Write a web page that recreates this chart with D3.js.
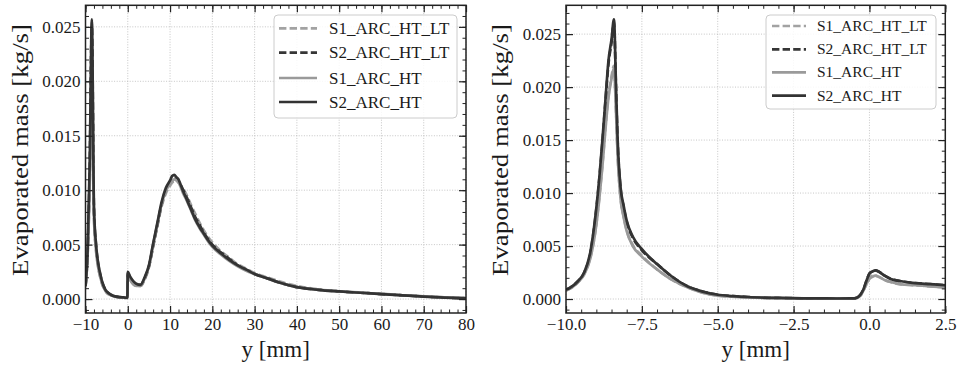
<!DOCTYPE html>
<html><head><meta charset="utf-8">
<script src="https://cdn.jsdelivr.net/npm/d3@7"></script>
<style>
body{margin:0;background:#fff}
svg{display:block}
svg text{font-family:"Liberation Serif","DejaVu Serif",serif !important;fill:#1a1a1a}
</style>
</head><body>
<svg id="c" width="958" height="368"></svg>
<script>
// ---------- data ----------
const seriesNames = ["S1_ARC_HT_LT", "S2_ARC_HT_LT", "S1_ARC_HT", "S2_ARC_HT"];

// left panel (full range), y [mm]
const wideX = [-10, -9.5, -9, -8.5, -8, -7.5, -7, -6.5, -6, -5.5, -5, -4, -3, -2, -1, -0.1, 0, 0.5, 1, 2, 3, 4, 5, 6, 7, 8, 9, 10, 10.5, 11, 11.5, 12, 12.5, 13, 14, 15, 16, 17, 18, 19, 20, 22, 24, 26, 28, 30, 33, 36, 40, 45, 50, 55, 60, 65, 70, 75, 80];
const wideS1LT = [0.0011, 0.0041, 0.0108, 0.0218, 0.0076, 0.0045, 0.0030, 0.0020, 0.0013, 0.0009, 0.0006, 0.00035, 0.00022, 0.00016, 0.00013, 0.0001, 0.0022, 0.0018, 0.0015, 0.0012, 0.0012, 0.0018, 0.0029, 0.0048, 0.0067, 0.0085, 0.0097, 0.0104, 0.0107, 0.0108, 0.0108, 0.0107, 0.0105, 0.0102, 0.0095, 0.0086, 0.0078, 0.0070, 0.0063, 0.0057, 0.0052, 0.0044, 0.0038, 0.0032, 0.0028, 0.0024, 0.0020, 0.0016, 0.0012, 0.0009, 0.00072, 0.0006, 0.00048, 0.00036, 0.00025, 0.00016, 0.00009];
const wideS2LT = [0.0012, 0.0044, 0.0122, 0.0252, 0.0083, 0.0049, 0.0032, 0.0022, 0.0015, 0.0010, 0.0007, 0.0004, 0.00025, 0.00018, 0.00015, 0.00012, 0.0024, 0.0020, 0.0017, 0.0013, 0.0013, 0.0019, 0.0030, 0.0049, 0.0068, 0.0087, 0.0100, 0.0107, 0.0110, 0.0111, 0.0110, 0.0108, 0.0105, 0.0101, 0.0093, 0.0084, 0.0075, 0.0068, 0.0061, 0.0055, 0.0050, 0.0043, 0.0037, 0.0031, 0.0027, 0.0023, 0.0019, 0.0015, 0.0011, 0.00086, 0.0007, 0.00058, 0.00046, 0.00034, 0.00023, 0.00014, 0.00007];
const wideS1 = [0.0011, 0.0040, 0.0105, 0.0215, 0.0075, 0.0044, 0.0029, 0.0020, 0.0013, 0.0009, 0.0006, 0.00035, 0.00022, 0.00016, 0.00013, 0.0001, 0.0021, 0.0018, 0.0015, 0.0012, 0.0012, 0.0019, 0.0030, 0.0050, 0.0069, 0.0087, 0.0099, 0.0106, 0.0109, 0.0110, 0.0109, 0.0107, 0.0103, 0.0098, 0.0090, 0.0081, 0.0072, 0.0065, 0.0059, 0.0053, 0.0048, 0.0041, 0.0035, 0.0030, 0.0026, 0.0023, 0.0019, 0.0015, 0.0011, 0.00085, 0.0007, 0.00058, 0.00047, 0.00035, 0.00024, 0.00015, 0.00008];
const wideS2 = [0.0012, 0.0045, 0.0125, 0.0257, 0.0085, 0.0050, 0.0033, 0.0023, 0.0015, 0.0010, 0.0007, 0.0004, 0.00025, 0.00018, 0.00015, 0.00012, 0.0025, 0.0021, 0.0018, 0.0014, 0.0013, 0.0020, 0.0031, 0.0051, 0.0070, 0.0089, 0.0102, 0.0109, 0.0113, 0.0114, 0.0112, 0.0110, 0.0105, 0.0100, 0.0091, 0.0082, 0.0073, 0.0066, 0.0060, 0.0054, 0.0049, 0.0042, 0.0036, 0.0031, 0.0027, 0.0023, 0.0019, 0.0015, 0.0011, 0.00085, 0.0007, 0.00058, 0.00046, 0.00034, 0.00022, 0.00013, 0.00006];

// right panel (zoom -10 .. 2.5 mm)
const zoomX = [-10, -9.8, -9.6, -9.4, -9.2, -9.0, -8.9, -8.8, -8.7, -8.6, -8.5, -8.42, -8.35, -8.3, -8.2, -8.1, -8.0, -7.8, -7.5, -7.0, -6.5, -6.0, -5.5, -5.0, -4.5, -4.0, -3.0, -2.0, -1.0, -0.5, -0.3, -0.2, -0.1, 0, 0.1, 0.2, 0.3, 0.5, 0.7, 1.0, 1.5, 2.0, 2.5];
const zoomS1LT = [0.0008, 0.0011, 0.0016, 0.0024, 0.0039, 0.0071, 0.0097, 0.0127, 0.0162, 0.0192, 0.0210, 0.0220, 0.0177, 0.0138, 0.0095, 0.0078, 0.0065, 0.0051, 0.0041, 0.0028, 0.0018, 0.0011, 0.0006, 0.00033, 0.00022, 0.00015, 0.00009, 0.00005, 0.00004, 0.00005, 0.0003, 0.0008, 0.0014, 0.0020, 0.0022, 0.0022, 0.0021, 0.0018, 0.0016, 0.0014, 0.0013, 0.0012, 0.0011];
const zoomS2LT = [0.00087, 0.0012, 0.0017, 0.0025, 0.0043, 0.0085, 0.0114, 0.0148, 0.0186, 0.0222, 0.0242, 0.0261, 0.0197, 0.0150, 0.0104, 0.0087, 0.0073, 0.0058, 0.0046, 0.0033, 0.0021, 0.0012, 0.0007, 0.0004, 0.00028, 0.00019, 0.0001, 0.00006, 0.00005, 0.00006, 0.0004, 0.0009, 0.0017, 0.0024, 0.0026, 0.0027, 0.0026, 0.0022, 0.0019, 0.0017, 0.0015, 0.0014, 0.0013];
const zoomS1 = [0.0008, 0.0011, 0.0016, 0.0023, 0.0038, 0.0070, 0.0095, 0.0125, 0.0160, 0.0190, 0.0208, 0.0218, 0.0175, 0.0137, 0.0094, 0.0077, 0.0064, 0.0050, 0.0040, 0.0028, 0.0018, 0.0011, 0.0006, 0.00032, 0.00022, 0.00015, 0.00009, 0.00005, 0.00004, 0.00005, 0.0003, 0.0008, 0.0014, 0.0019, 0.0021, 0.0022, 0.0021, 0.0018, 0.0016, 0.0014, 0.0013, 0.0012, 0.0011];
const zoomS2 = [0.00088, 0.0012, 0.0017, 0.0025, 0.0044, 0.0086, 0.0115, 0.0150, 0.0188, 0.0225, 0.0245, 0.0264, 0.0199, 0.0152, 0.0105, 0.0088, 0.0074, 0.0059, 0.0047, 0.0033, 0.0021, 0.0012, 0.0007, 0.0004, 0.00028, 0.00019, 0.0001, 0.00006, 0.00005, 0.00006, 0.0004, 0.0009, 0.0017, 0.0024, 0.0026, 0.0027, 0.0026, 0.0022, 0.0019, 0.0017, 0.0015, 0.0014, 0.0013];

// axis limits & ticks
const leftXLim = [-10, 80];
const leftYLim = [-0.00128, 0.02698];
const leftXTicks = [-10, 0, 10, 20, 30, 40, 50, 60, 70, 80];
const rightXLim = [-10, 2.5];
const rightYLim = [-0.00132, 0.02772];
const rightXTicks = [-10, -7.5, -5, -2.5, 0, 2.5];
const yTicks = [0, 0.005, 0.010, 0.015, 0.020, 0.025];
const xLabel = "y [mm]";
const yLabel = "Evaporated mass [kg/s]";

// ---------- styles ----------
const styles = [
  {color: "#a2a2a2", dash: "7.4,3.2"},
  {color: "#363636", dash: "7.4,3.2"},
  {color: "#9a9a9a", dash: null},
  {color: "#333333", dash: null}
];
const FONT = '"Liberation Serif", "DejaVu Serif", serif';

const svg = d3.select("#c");

function range(a, b, step) {
  const out = [];
  const n = Math.round((b - a) / step);
  for (let i = 0; i <= n; i++) out.push(+(a + i * step).toFixed(6));
  return out;
}

function panel(cfg, id) {
  const g = svg.append("g");
  const x = d3.scaleLinear().domain(cfg.xLim).range([cfg.left, cfg.right]);
  const y = d3.scaleLinear().domain(cfg.yLim).range([cfg.bottom, cfg.top]);

  // grid
  const grid = g.append("g").attr("stroke", "#b8b8b8").attr("stroke-width", 0.8).attr("stroke-dasharray", "1,1.6");
  grid.selectAll(".gx").data(cfg.xTicks).join("line")
    .attr("x1", d => x(d)).attr("x2", d => x(d)).attr("y1", cfg.top).attr("y2", cfg.bottom);
  grid.selectAll(".gy").data(yTicks).join("line")
    .attr("y1", d => y(d)).attr("y2", d => y(d)).attr("x1", cfg.left).attr("x2", cfg.right);

  // clip
  svg.append("defs").append("clipPath").attr("id", "clip" + id)
    .append("rect").attr("x", cfg.left).attr("y", cfg.top)
    .attr("width", cfg.right - cfg.left).attr("height", cfg.bottom - cfg.top);

  const line = d3.line().x(d => x(d[0])).y(d => y(d[1])).curve(d3.curveMonotoneX);
  const lg = g.append("g").attr("clip-path", `url(#clip${id})`);
  cfg.series.forEach((vals, i) => {
    const pts = cfg.xs.map((xv, j) => [xv, vals[j]]);
    lg.append("path").attr("d", line(pts)).attr("fill", "none")
      .attr("stroke", styles[i].color).attr("stroke-width", 2.7)
      .attr("stroke-linejoin", "round")
      .attr("stroke-dasharray", styles[i].dash);
  });

  // axes (inward ticks on all sides)
  const minorX = range(cfg.xLim[0], cfg.xLim[1], cfg.xMinor);
  const minorY = range(-0.001, 0.027, 0.001);
  const fmtY = d3.format(".3f");
  const defs = [
    {mk: d3.axisBottom, s: x, tr: `translate(0,${cfg.bottom})`, maj: cfg.xTicks, min: minorX, fmt: cfg.fmtX},
    {mk: d3.axisTop, s: x, tr: `translate(0,${cfg.top})`, maj: cfg.xTicks, min: minorX, fmt: () => ""},
    {mk: d3.axisLeft, s: y, tr: `translate(${cfg.left},0)`, maj: yTicks, min: minorY, fmt: fmtY},
    {mk: d3.axisRight, s: y, tr: `translate(${cfg.right},0)`, maj: yTicks, min: minorY, fmt: () => ""}
  ];
  defs.forEach(dd => {
    const gm = g.append("g").attr("transform", dd.tr)
      .call(dd.mk(dd.s).tickValues(dd.min).tickSize(-3.5).tickFormat(() => ""));
    gm.select(".domain").remove();
    gm.selectAll("line").attr("stroke", "#222").attr("stroke-width", 1);
    const ga = g.append("g").attr("transform", dd.tr)
      .call(dd.mk(dd.s).tickValues(dd.maj).tickSize(-7).tickPadding(5).tickFormat(dd.fmt));
    ga.select(".domain").remove();
    ga.selectAll("line").attr("stroke", "#222").attr("stroke-width", 1.2);
    ga.attr("font-family", FONT).attr("font-size", 17);
    ga.selectAll("text").style("font-family", FONT).style("font-size", "17px").attr("fill", "#1a1a1a");
  });

  // frame
  g.append("rect").attr("x", cfg.left).attr("y", cfg.top)
    .attr("width", cfg.right - cfg.left).attr("height", cfg.bottom - cfg.top)
    .attr("fill", "none").attr("stroke", "#222").attr("stroke-width", 1.5);

  // axis labels
  g.append("text").text(xLabel).attr("x", (cfg.left + cfg.right) / 2).attr("y", 357)
    .attr("text-anchor", "middle").style("font-family", FONT).style("font-size", "23px");
  g.append("text").text(yLabel)
    .attr("transform", `translate(${cfg.yLabelX},150) rotate(-90)`)
    .attr("text-anchor", "middle").style("font-family", FONT).style("font-size", "24px")
    .attr("textLength", 252).attr("lengthAdjust", "spacingAndGlyphs");

  // legend
  const L = cfg.legend;
  const lgd = g.append("g");
  lgd.append("rect").attr("x", L.x).attr("y", L.y).attr("width", L.w).attr("height", L.h)
    .attr("rx", 4).attr("fill", "#fff").attr("fill-opacity", 0.85)
    .attr("stroke", "#cccccc").attr("stroke-width", 1);
  seriesNames.forEach((name, i) => {
    const ry = L.rows[i];
    lgd.append("line").attr("x1", L.sx1).attr("x2", L.sx2).attr("y1", ry).attr("y2", ry)
      .attr("stroke", styles[i].color).attr("stroke-width", 2.7)
      .attr("stroke-dasharray", styles[i].dash);
    lgd.append("text").text(name).attr("x", L.tx).attr("y", ry + L.fs * 0.33)
      .style("font-family", FONT).style("font-size", L.fs + "px");
  });
}

panel({
  left: 85.5, right: 466, top: 5.3, bottom: 313,
  xLim: leftXLim, yLim: leftYLim, xTicks: leftXTicks, xMinor: 2,
  fmtX: d3.format("d"),
  xs: wideX, series: [wideS1LT, wideS2LT, wideS1, wideS2],
  yLabelX: 28,
  legend: {x: 274, y: 15, w: 183, h: 103, rows: [28.3, 52.7, 78, 102], sx1: 279, sx2: 317, tx: 329, fs: 17}
}, 1);

panel({
  left: 566, right: 945.3, top: 5.3, bottom: 313,
  xLim: rightXLim, yLim: rightYLim, xTicks: rightXTicks, xMinor: 0.5,
  fmtX: d3.format(".1f"),
  xs: zoomX, series: [zoomS1LT, zoomS2LT, zoomS1, zoomS2],
  yLabelX: 508,
  legend: {x: 766, y: 15, w: 170, h: 94, rows: [26, 49.3, 72.3, 95.7], sx1: 772, sx2: 806, tx: 817, fs: 15.5}
}, 2);
</script>
</body></html>
